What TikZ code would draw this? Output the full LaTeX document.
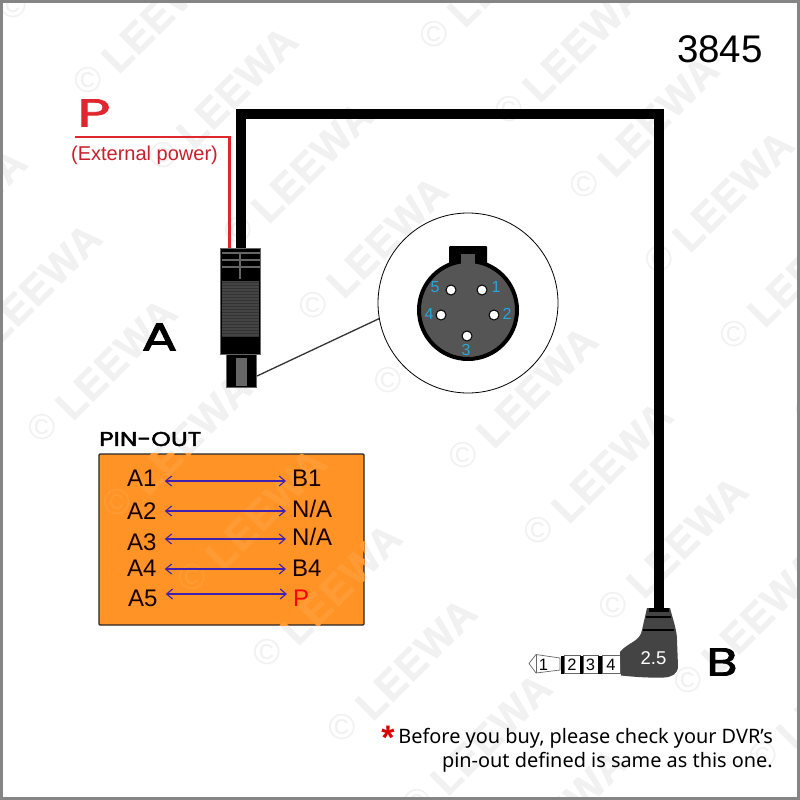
\documentclass[tikz,border=0pt]{standalone}
\usepackage{fontspec}
\setmainfont{Liberation Sans}
\newfontfamily\wideFont[BoldFont=Poppins,BoldFeatures={FakeBold=2}]{Poppins}
\newfontfamily\noteFont{Noto Sans}
\newfontfamily\markFont[LetterSpace=3,BoldFeatures={FakeBold=1}]{Liberation Sans}
\usetikzlibrary{arrows.meta,calc}
\definecolor{wireRed}{HTML}{E0262E}
\definecolor{labelRed}{HTML}{C8202A}
\definecolor{pinBlue}{HTML}{2AA5D8}
\definecolor{boxOrange}{HTML}{FF9326}
\definecolor{arrowBlue}{HTML}{4020B0}
\definecolor{plugGrey}{HTML}{666666}
\definecolor{bodyGrey}{HTML}{555555}
\definecolor{jackGrey}{HTML}{444444}
\definecolor{markGrey}{HTML}{F1F1F1}
\newcommand{\fsz}[1]{\fontsize{#1}{#1}\selectfont}
% one watermark unit
\newcommand{\wmark}[3][markGrey]{
    \node[text=#1,inner sep=0] (mk) at (#2,#3) {\fsz{36}©};
    \node[text=#1,inner sep=0,rotate=45] (mkT) at (#2+74,#3-68) {\fsz{41}\markFont\bfseries LEEWA};
}
% all three diagonals
\newcommand{\wmarks}[1][markGrey]{
    \foreach \xi in {0,...,10}{\wmark[#1]{13+75*\xi}{5+75*\xi}}
    \foreach \xi in {-1,...,5}{\wmark[#1]{434+75*\xi}{34+75*\xi}}
    \foreach \xi in {-2,...,7}{\wmark[#1]{42+75*\xi}{427+75*\xi}}
}
\begin{document}
\begin{tikzpicture}[x=1pt,y=-1pt]
\tikzset{
    cableW/.style={line width=10pt,black},
    redW/.style={line width=2.4pt,wireRed},
    pinTxt/.style={inner ysep=0,text height=17.2pt,text depth=0pt,anchor=west,text=black!90!red},
    pinLeft/.style={pinTxt,inner xsep=8pt},
    pinRight/.style={pinTxt,inner xsep=6pt},
    pinLine/.style={arrowBlue,line width=1.1pt,{Straight Barb[length=6pt,width=10pt]}-{Straight Barb[length=6pt,width=10pt]}},
    wideTxt/.style={font=\wideFont\bfseries,inner sep=0,transform shape},
    hole/.style={circle,draw=black,fill=white,line width=1pt,minimum size=10pt,inner sep=0},
    pinNo/.style={text=pinBlue,inner sep=0,font=\fsz{16}},
    ringNo/.style={draw=plugGrey,fill=white,line width=0.6pt,minimum height=18pt,inner sep=0,font=\fsz{16.5}},
    barNo/.style={fill=black,minimum height=18pt,inner sep=0},
}

\useasboundingbox (0,0) rectangle (800,800);
\clip (0,0) rectangle (800,800);
\fill[white] (0,0) rectangle (800,800);

%% WATERMARK
\wmarks

% Title
\node (title) at (720,49) {\fsz{38.5}3845};

%% PLUG A
\node[draw=plugGrey,fill=black,line width=1pt,minimum width=40pt,minimum height=106pt,inner sep=0] (bodyA) at (240.5,301) {};
\node[draw=plugGrey,fill=black,line width=0.8pt,minimum width=30pt,minimum height=33pt,inner sep=0] (tipA) at (241,371) {};
\node[fill=plugGrey,minimum width=11pt,minimum height=28pt,inner sep=0] (tipInA) at (241.5,372) {};
\node[fill=jackGrey,minimum width=37pt,minimum height=56pt,inner sep=0] (gripA) at (240.5,308.5) {};
\foreach \yval in {282,285,...,336}{
    \draw[black!80,line width=0.5pt] (222,\yval) -- (259,\yval);
}
\foreach \yval in {253,260,267}{
    \draw[plugGrey,line width=1.2pt] (222,\yval) -- (260,\yval);
}
\draw[plugGrey,line width=1.2pt] (240,253) -- (240,279);

% Cable from A to B
\coordinate (corner) at (659,114);
\coordinate (jackTop) at (659,610);
\draw[cableW] (bodyA.north) |- (corner) -- (jackTop);

% External power wire
\coordinate (redEnd) at (75,137);
\draw[redW] (redEnd) -| ([xshift=-11pt]bodyA.north);
\node[wideTxt,text=wireRed,xscale=1.45] (labP) at (94,113) {\fsz{39}P};
\node[text=labelRed,inner sep=0] (labExt) at (144.5,155) {\fsz{20}(External power)};
\node[wideTxt,xscale=1.35] (labA) at (159.5,337) {\fsz{39}A};

%% ZOOM ON THE SOCKET
\node[circle,draw=black,fill=white,line width=0.8pt,minimum size=180pt,inner sep=0] (zoomC) at (468,303) {};
\coordinate (leadA) at (257,376);
\draw[black!80,line width=1.3pt] (leadA) -- (zoomC.190);
\node[fill=black,rounded corners=1pt,minimum width=38pt,minimum height=28pt,inner sep=0] (keyO) at (468,260) {};
\node[circle,draw=black,fill=bodyGrey,line width=4pt,minimum size=98pt,inner sep=0] (socket) at (468,310) {};
\node[fill=bodyGrey,minimum width=14pt,minimum height=18pt,inner sep=0] (keyI) at (467.5,263) {};
\node[hole] (h1) at (482,290) {};
\node[hole] (h2) at (494,315) {};
\node[hole] (h3) at (467,336) {};
\node[hole] (h4) at (441,315) {};
\node[hole] (h5) at (451,290) {};
\node[pinNo] at (496,287) {1};
\node[pinNo] at (507,314) {2};
\node[pinNo] at (466,350) {3};
\node[pinNo] at (429,314) {4};
\node[pinNo] at (435,287) {5};

%% PIN-OUT TABLE
\node[wideTxt,anchor=west,xscale=1.25] (pinTitle) at (99,439) {\fsz{20}PIN-OUT};
\node[draw=black!85,fill=boxOrange,line width=1.3pt,rounded corners=1pt,minimum width=265pt,minimum height=171pt,inner sep=0] (pinBox) at (231.5,539.5) {};
\begin{scope}
    \clip (pinBox.south west) rectangle (pinBox.north east);
    \wmarks[white!7!boxOrange]
\end{scope}
% number/left/right/y left/y right/y line
\foreach \xi/\lft/\rgt/\yl/\yr/\ya in {1/A1/B1/478/478/481, 2/A2/N\slash A/511/509/511, 3/A3/N\slash A/542/537/539, 4/A4/B4/568/568/569}{
    \node[pinLeft] (l\xi) at (119,\yl) {\fsz{24}\lft};
    \node[pinRight] (r\xi) at (286,\yr) {\fsz{24}\rgt};
    \coordinate (y\xi) at (0,\ya);
    \draw[pinLine] (l\xi.east |- y\xi) -- (r\xi.west |- y\xi);
}
\node[pinLeft] (l5) at (120,598) {\fsz{24}A5};
\node[pinRight,text=red] (r5) at (287,598) {\fsz{24}P};
\coordinate (y5) at (0,594);
\draw[pinLine] (l5.east |- y5) -- (r5.west |- y5);

%% JACK B
\draw[fill=white,draw=plugGrey,line width=0.7pt] (560,658) -- (536,654.5) -- (529,663.5) -- (536,673) -- (560,670) -- cycle;
\draw[draw=plugGrey,line width=0.7pt] (536,654.5) -- (536,673);
\node[inner sep=0,font=\fsz{16.5}] (ring1) at (543.5,665) {1};
\node[ringNo,minimum width=16pt] (ring2) at (572,664.5) {2};
\node[ringNo,minimum width=15pt] (ring3) at (590.5,664.5) {3};
\node[ringNo,minimum width=18pt] (ring4) at (611,664.5) {4};
\node[barNo,minimum width=3pt] (bar1) at (562.5,664.5) {};
\node[barNo,minimum width=3pt] (bar2) at (581.5,664.5) {};
\node[barNo,minimum width=4pt] (bar3) at (600,664.5) {};
\fill[jackGrey] (647,608) -- (670,608) .. controls (673,620) and (677,630) .. (677,640) -- (678,666) .. controls (678,674) and (672,677) .. (664,677.5) .. controls (650,678) and (635,677) .. (621,675.5) -- (620,652) .. controls (628,642) and (640,642) .. (642,630) -- cycle;
\fill[black] (649,608) rectangle (669,612);
\draw[black,line width=2.5pt] (646,617) -- (671,617);
\draw[black,line width=2.5pt] (643,630) -- (674,630);
\node[text=white,inner sep=0] (size) at (653.5,658) {\fsz{18.5}2.5};
\node[wideTxt,xscale=1.3] (labB) at (722,662) {\fsz{39}B};

%% NOTE
\node[text=red!85!black,inner sep=0] (star) at (388,738) {\fsz{34}\bfseries *};
\node[anchor=north east,align=right,inner sep=0,font={\noteFont\fontsize{19.9}{24}\selectfont}] (note) at (773,728.5) {Before you buy, please check your DVR’s\\pin-out defined is same as this one.};

% Frame
\draw[plugGrey!80!white,line width=3pt] (1.5,1.5) rectangle (798.5,798.5);
\end{tikzpicture}
\end{document}
